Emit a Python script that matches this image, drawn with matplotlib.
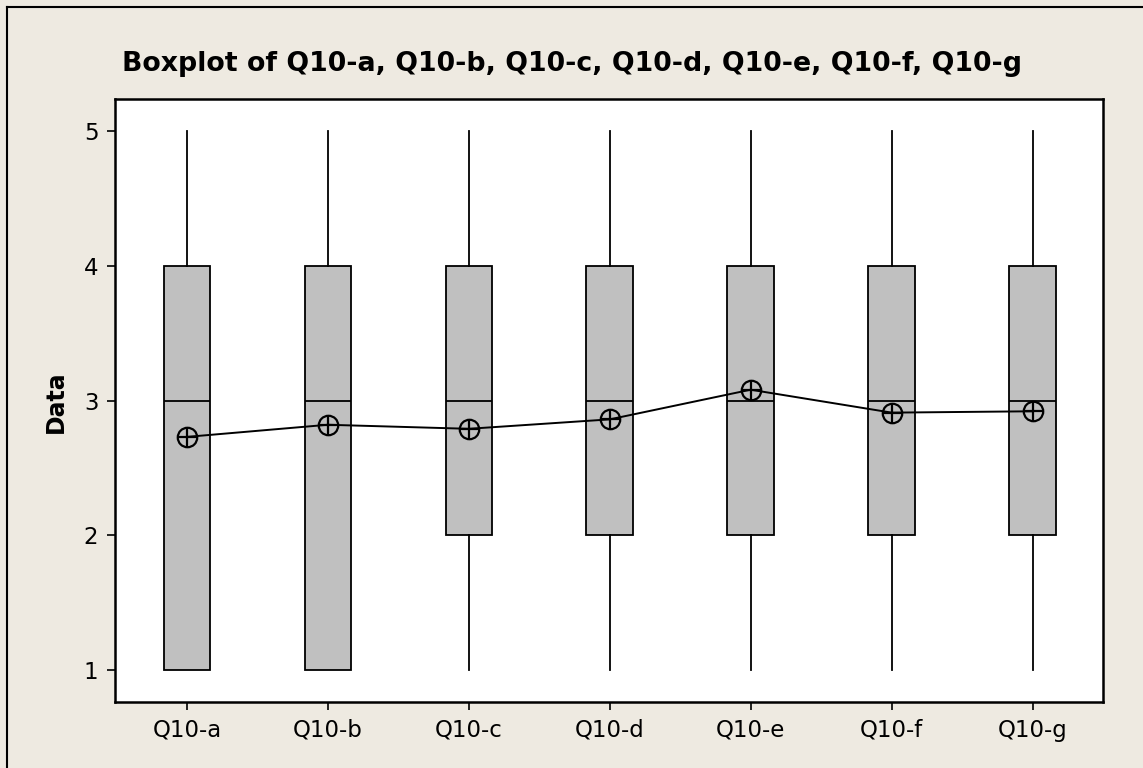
import matplotlib
matplotlib.use("Agg")
import matplotlib.pyplot as plt
from matplotlib.lines import Line2D

# -----------------------------
# DATA
# -----------------------------
labels = ["Q10-a", "Q10-b", "Q10-c", "Q10-d", "Q10-e", "Q10-f", "Q10-g"]
whislo = [1, 1, 1, 1, 1, 1, 1]
q1 = [1, 1, 2, 2, 2, 2, 2]
med = [3, 3, 3, 3, 3, 3, 3]
q3 = [4, 4, 4, 4, 4, 4, 4]
whishi = [5, 5, 5, 5, 5, 5, 5]
means = [2.73, 2.82, 2.79, 2.86, 3.08, 2.91, 2.92]

# -----------------------------
# STYLE
# -----------------------------
bg = "#EEEAE1"
box_fill = "#C0C0C0"
W, H, DPI = 1143, 768, 100

fig = plt.figure(figsize=(W / DPI, H / DPI), dpi=DPI, facecolor=bg)
ax = fig.add_axes([115 / W, 1 - 702 / H, 988 / W, 603 / H])
ax.set_facecolor("white")

stats = []
for lab, lo, a, m, b, hi in zip(labels, whislo, q1, med, q3, whishi):
    stats.append(dict(label=lab, whislo=lo, q1=a, med=m, q3=b, whishi=hi, fliers=[]))

pos = list(range(1, len(labels) + 1))
ax.bxp(stats, positions=pos, widths=0.33, patch_artist=True, showcaps=False,
       boxprops=dict(facecolor=box_fill, edgecolor="black", linewidth=1.3),
       medianprops=dict(color="black", linewidth=1.3),
       whiskerprops=dict(color="black", linewidth=1.3))

# mean connect line + circled-plus markers
ax.plot(pos, means, color="black", linewidth=1.4, zorder=4)
ax.plot(pos, means, linestyle="none", marker="o", markersize=14,
        markerfacecolor="none", markeredgecolor="black", markeredgewidth=1.6, zorder=5)
ax.plot(pos, means, linestyle="none", marker="+", markersize=14,
        markeredgecolor="black", markeredgewidth=1.6, zorder=5)

ax.set_xlim(0.49, 7.5)
ax.set_ylim(0.763, 5.237)
ax.set_yticks([1, 2, 3, 4, 5])
ax.set_xticks(pos)
ax.set_xticklabels(labels)
ax.tick_params(direction="out", length=6, width=1.2, labelsize=16.5, pad=6)
for s in ax.spines.values():
    s.set_linewidth(1.8)

fig.text(0.5, 1 - 64 / H, "Boxplot of " + ", ".join(labels), ha="center", va="center",
         fontsize=19.3, fontweight="bold")
fig.text(56 / W, 1 - 402 / H, "Data", rotation=90, ha="center", va="center",
         fontsize=17, fontweight="bold")

# outer frame (top and left visible)
fig.add_artist(Line2D([7 / W, 7 / W], [0, 1 - 7 / H], color="black", linewidth=1.5))
fig.add_artist(Line2D([7 / W, 1], [1 - 7 / H, 1 - 7 / H], color="black", linewidth=1.5))

fig.savefig("out.png", dpi=DPI, facecolor=bg)
